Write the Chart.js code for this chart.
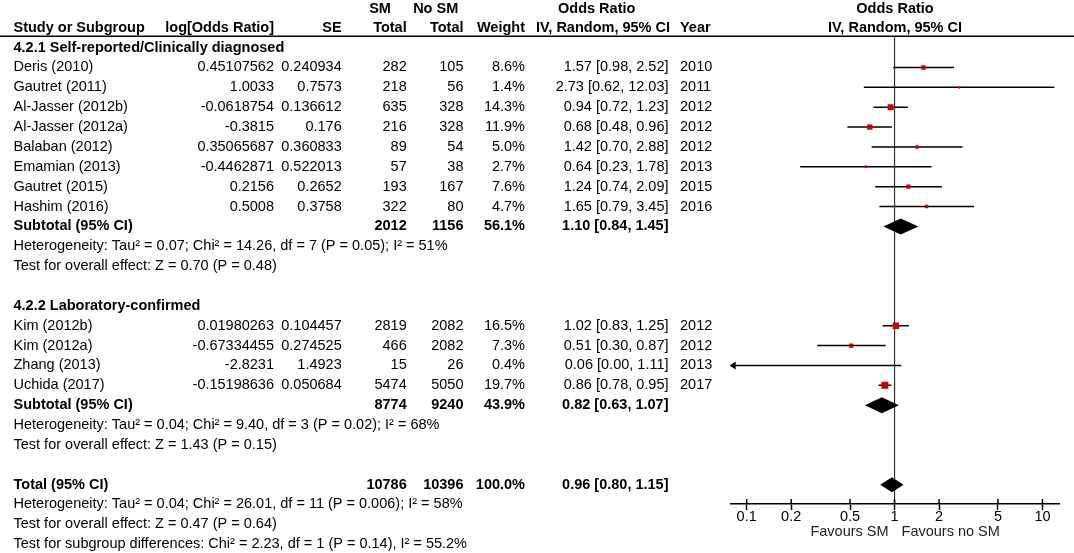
<!DOCTYPE html>
<html>
<head>
<meta charset="utf-8">
<title>Forest plot</title>
<script src="https://cdn.jsdelivr.net/npm/chart.js@4.4.1/dist/chart.umd.min.js"></script>
<style>
  html, body { margin: 0; padding: 0; background: #fff; }
  #wrap { position: relative; width: 1074px; height: 553px; }
</style>
</head>
<body>
<div id="wrap"><canvas id="forest"></canvas></div>
<script>
// study rows
const studies = ['Deris (2010)', 'Gautret (2011)', 'Al-Jasser (2012b)', 'Al-Jasser (2012a)', 'Balaban (2012)',
  'Emamian (2013)', 'Gautret (2015)', 'Hashim (2016)', 'Kim (2012b)', 'Kim (2012a)', 'Zhang (2013)', 'Uchida (2017)'];
const logOR = ['0.45107562', '1.0033', '-0.0618754', '-0.3815', '0.35065687', '-0.4462871', '0.2156', '0.5008',
  '0.01980263', '-0.67334455', '-2.8231', '-0.15198636'];
const seVals = ['0.240934', '0.7573', '0.136612', '0.176', '0.360833', '0.522013', '0.2652', '0.3758',
  '0.104457', '0.274525', '1.4923', '0.050684'];
const smTotal = [282, 218, 635, 216, 89, 57, 193, 322, 2819, 466, 15, 5474];
const noSmTotal = [105, 56, 328, 328, 54, 38, 167, 80, 2082, 2082, 26, 5050];
const weights = [8.6, 1.4, 14.3, 11.9, 5.0, 2.7, 7.6, 4.7, 16.5, 7.3, 0.4, 19.7];
const oddsRatio = [1.57, 2.73, 0.94, 0.68, 1.42, 0.64, 1.24, 1.65, 1.02, 0.51, 0.06, 0.86];
const ciLow = [0.98, 0.62, 0.72, 0.48, 0.70, 0.23, 0.74, 0.79, 0.83, 0.30, 0.003, 0.78];
const ciHigh = [2.52, 12.03, 1.23, 0.96, 2.88, 1.78, 2.09, 3.45, 1.25, 0.87, 1.11, 0.95];
const years = [2010, 2011, 2012, 2012, 2012, 2013, 2015, 2016, 2012, 2012, 2013, 2017];
const studyRows = [1, 2, 3, 4, 5, 6, 7, 8, 14, 15, 16, 17];

// pooled estimates (diamonds)
const pooledLabels = ['Subtotal (95% CI)', 'Subtotal (95% CI)', 'Total (95% CI)'];
const pooledRows = [9, 18, 22];
const pooledSm = [2012, 8774, 10786];
const pooledNoSm = [1156, 9240, 10396];
const pooledWeight = [56.1, 43.9, 100.0];
const pooledOR = [1.10, 0.82, 0.96];
const pooledLow = [0.84, 0.63, 0.80];
const pooledHigh = [1.45, 1.07, 1.15];

const groupLabels = ['4.2.1 Self-reported/Clinically diagnosed', '4.2.2 Laboratory-confirmed'];
const groupRows = [0, 13];

const noteLines = [
  'Heterogeneity: Tau\u00b2 = 0.07; Chi\u00b2 = 14.26, df = 7 (P = 0.05); I\u00b2 = 51%',
  'Test for overall effect: Z = 0.70 (P = 0.48)',
  'Heterogeneity: Tau\u00b2 = 0.04; Chi\u00b2 = 9.40, df = 3 (P = 0.02); I\u00b2 = 68%',
  'Test for overall effect: Z = 1.43 (P = 0.15)',
  'Heterogeneity: Tau\u00b2 = 0.04; Chi\u00b2 = 26.01, df = 11 (P = 0.006); I\u00b2 = 58%',
  'Test for overall effect: Z = 0.47 (P = 0.64)',
  'Test for subgroup differences: Chi\u00b2 = 2.23, df = 1 (P = 0.14), I\u00b2 = 55.2%'
];
const noteRows = [10, 11, 19, 20, 23, 24, 25];

const tickValues = [0.1, 0.2, 0.5, 1, 2, 5, 10];

const FONT = '"Liberation Sans", Arial, sans-serif';
const FSIZE = 14.5;

// column x positions of the table on the left
const col = {
  study: 13.5, logOR: 274, se: 341.7, sm: 406.7, noSm: 463.5,
  weight: 525, orText: 668.5, year: 680, plotMid: 895
};

const ciText = (o, l, h) => o.toFixed(2) + ' [' + l.toFixed(2) + ', ' + h.toFixed(2) + ']';

// CI whiskers as one line dataset broken by null points
const ciSegments = [];
studies.forEach((s, i) => {
  ciSegments.push({ x: ciLow[i], y: studyRows[i] }, { x: ciHigh[i], y: studyRows[i] }, { x: null, y: null });
});
const squarePoints = studies.map((s, i) => ({ x: oddsRatio[i], y: studyRows[i] }));

function drawText(ctx, s, x, y, align, bold) {
  ctx.font = (bold ? 'bold ' : '') + FSIZE + 'px ' + FONT;
  ctx.textAlign = align;
  ctx.fillText(s, x, y);
}

const forestPlugin = {
  id: 'forestExtras',
  beforeDatasetsDraw(chart) {
    const { ctx, chartArea, scales: { x } } = chart;
    const x1 = x.getPixelForValue(1);
    ctx.save();
    ctx.strokeStyle = '#333';
    ctx.lineWidth = 1.2;
    ctx.beginPath();
    ctx.moveTo(x1, chartArea.top);
    ctx.lineTo(x1, chartArea.bottom);
    ctx.stroke();
    ctx.restore();
  },
  afterDatasetsDraw(chart) {
    const { ctx, chartArea, scales: { x, y } } = chart;
    ctx.save();
    // pooled diamonds
    ctx.fillStyle = '#000';
    pooledRows.forEach((r, i) => {
      const yc = y.getPixelForValue(r);
      const xl = x.getPixelForValue(pooledLow[i]);
      const xm = x.getPixelForValue(pooledOR[i]);
      const xh = x.getPixelForValue(pooledHigh[i]);
      const hh = i === 2 ? 7.5 : 8;
      ctx.beginPath();
      ctx.moveTo(xl, yc);
      ctx.lineTo(xm, yc - hh);
      ctx.lineTo(xh, yc);
      ctx.lineTo(xm, yc + hh);
      ctx.closePath();
      ctx.fill();
    });
    // arrow heads for intervals running off the scale
    studies.forEach((s, i) => {
      if (ciLow[i] < x.min) {
        const yc = y.getPixelForValue(studyRows[i]);
        const tip = chartArea.left - 1;
        ctx.beginPath();
        ctx.moveTo(tip, yc);
        ctx.lineTo(tip + 6, yc - 4);
        ctx.lineTo(tip + 6, yc + 4);
        ctx.closePath();
        ctx.fill();
      }
    });
    // tick marks also poke above the axis line
    ctx.strokeStyle = '#000';
    ctx.lineWidth = 1.5;
    tickValues.forEach(v => {
      const px = x.getPixelForValue(v);
      ctx.beginPath();
      ctx.moveTo(px, chartArea.bottom - 5);
      ctx.lineTo(px, chartArea.bottom);
      ctx.stroke();
    });
    ctx.restore();
  },
  afterDraw(chart) {
    const { ctx, chartArea, scales: { x, y } } = chart;
    ctx.save();
    ctx.fillStyle = '#000';
    ctx.textBaseline = 'middle';

    // header rule
    ctx.strokeStyle = '#000';
    ctx.lineWidth = 1.6;
    ctx.beginPath();
    ctx.moveTo(0, chartArea.top - 0.5);
    ctx.lineTo(1074, chartArea.top - 0.5);
    ctx.stroke();

    // header
    const h1 = 8.5, h2 = 27.5;
    drawText(ctx, 'SM', 380, h1, 'center', true);
    drawText(ctx, 'No SM', 435.7, h1, 'center', true);
    drawText(ctx, 'Odds Ratio', 596.7, h1, 'center', true);
    drawText(ctx, 'Odds Ratio', col.plotMid, h1, 'center', true);
    drawText(ctx, 'Study or Subgroup', col.study, h2, 'left', true);
    drawText(ctx, 'log[Odds Ratio]', col.logOR, h2, 'right', true);
    drawText(ctx, 'SE', col.se, h2, 'right', true);
    drawText(ctx, 'Total', col.sm, h2, 'right', true);
    drawText(ctx, 'Total', col.noSm, h2, 'right', true);
    drawText(ctx, 'Weight', col.weight, h2, 'right', true);
    drawText(ctx, 'IV, Random, 95% CI', 670, h2, 'right', true);
    drawText(ctx, 'Year', col.year, h2, 'left', true);
    drawText(ctx, 'IV, Random, 95% CI', col.plotMid, h2, 'center', true);

    groupLabels.forEach((g, i) => {
      drawText(ctx, g, col.study, y.getPixelForValue(groupRows[i]), 'left', true);
    });

    studies.forEach((s, i) => {
      const yy = y.getPixelForValue(studyRows[i]);
      drawText(ctx, s, col.study, yy, 'left', false);
      drawText(ctx, logOR[i], col.logOR, yy, 'right', false);
      drawText(ctx, seVals[i], col.se, yy, 'right', false);
      drawText(ctx, String(smTotal[i]), col.sm, yy, 'right', false);
      drawText(ctx, String(noSmTotal[i]), col.noSm, yy, 'right', false);
      drawText(ctx, weights[i].toFixed(1) + '%', col.weight, yy, 'right', false);
      drawText(ctx, ciText(oddsRatio[i], ciLow[i], ciHigh[i]), col.orText, yy, 'right', false);
      drawText(ctx, String(years[i]), col.year, yy, 'left', false);
    });

    pooledRows.forEach((r, i) => {
      const yy = y.getPixelForValue(r);
      drawText(ctx, pooledLabels[i], col.study, yy, 'left', true);
      drawText(ctx, String(pooledSm[i]), col.sm, yy, 'right', true);
      drawText(ctx, String(pooledNoSm[i]), col.noSm, yy, 'right', true);
      drawText(ctx, pooledWeight[i].toFixed(1) + '%', col.weight, yy, 'right', true);
      drawText(ctx, ciText(pooledOR[i], pooledLow[i], pooledHigh[i]), col.orText, yy, 'right', true);
    });

    noteLines.forEach((t, i) => {
      drawText(ctx, t, col.study, y.getPixelForValue(noteRows[i]), 'left', false);
    });

    // favours labels either side of the null line
    const x1 = x.getPixelForValue(1);
    ctx.fillStyle = '#222';
    drawText(ctx, 'Favours SM', x1 - 6, 532, 'right', false);
    drawText(ctx, 'Favours no SM', x1 + 7, 532, 'left', false);
    ctx.restore();
  }
};

new Chart(document.getElementById('forest'), {
  type: 'scatter',
  data: {
    datasets: [
      {
        label: 'Study estimate',
        data: squarePoints,
        pointStyle: 'rect',
        // square area follows study weight
        pointRadius: weights.map(w => Math.max(1.5, 1.1 * Math.sqrt(w))),
        backgroundColor: '#cc0000',
        borderWidth: 0,
        pointBorderWidth: 0
      },
      {
        label: '95% CI',
        data: ciSegments,
        showLine: true,
        spanGaps: false,
        borderColor: '#000',
        borderWidth: 1.5,
        pointRadius: 0
      }
    ]
  },
  options: {
    responsive: true,
    maintainAspectRatio: false,
    animation: false,
    events: [],
    layout: { padding: { left: 730.7, right: 14.7, top: 36.7, bottom: 29.5 } },
    plugins: {
      legend: { display: false },
      tooltip: { enabled: false }
    },
    scales: {
      x: {
        type: 'logarithmic',
        position: 'bottom',
        min: 0.078,
        max: 13.0,
        afterBuildTicks: (scale) => { scale.ticks = tickValues.map(v => ({ value: v })); },
        ticks: {
          autoSkip: false,
          maxRotation: 0,
          padding: -2,
          color: '#000',
          font: { family: FONT, size: FSIZE },
          callback: (v) => String(v)
        },
        grid: {
          display: true,
          drawOnChartArea: false,
          drawTicks: true,
          tickLength: 6,
          tickWidth: 1.5,
          tickColor: '#000'
        },
        border: { display: true, color: '#000', width: 1.5 }
      },
      y: {
        type: 'linear',
        display: false,
        reverse: true,
        min: -0.55,
        max: 22.98
      }
    }
  },
  plugins: [forestPlugin]
});
</script>
</body>
</html>
